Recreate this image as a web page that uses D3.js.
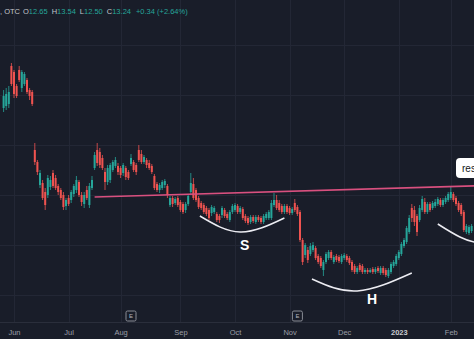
<!DOCTYPE html>
<html>
<head>
<meta charset="utf-8">
<script src="https://cdn.jsdelivr.net/npm/d3@7"></script>
<style>
html, body { margin: 0; padding: 0; background: #fff; }
svg { display: block; font-family: "Liberation Sans", Arial, sans-serif; }
</style>
</head>
<body>
<svg id="chart" width="474" height="355"></svg>
<script>
// one row per trading day, [open, high, low, close], starting late May 2022
const ohlc = [
    [19.35, 20.25, 19.15, 19.95], [19.45, 20.35, 19.25, 20.05], [19.55, 20.45, 19.35, 20.15], [21.45, 21.60, 20.45, 20.55],
    [21.15, 21.25, 19.85, 20.05], [20.45, 20.55, 19.85, 19.95], [21.25, 21.45, 20.65, 20.75], [20.35, 21.25, 20.15, 21.15],
    [20.55, 21.15, 20.45, 21.05], [20.75, 20.85, 20.05, 20.15], [20.25, 20.35, 19.75, 19.95], [20.15, 20.25, 19.45, 19.55],
    [17.25, 17.60, 16.50, 16.65], [16.65, 16.75, 16.00, 16.15], [15.50, 16.25, 15.35, 16.10], [15.60, 15.75, 14.75, 14.85],
    [15.15, 15.35, 14.25, 14.50], [15.00, 16.00, 14.85, 15.85], [15.40, 15.95, 15.25, 15.75], [16.10, 16.25, 15.35, 15.45],
    [15.85, 16.00, 15.25, 15.35], [15.45, 15.55, 15.00, 15.15], [15.25, 15.35, 14.75, 14.85], [15.00, 15.15, 14.25, 14.40],
    [14.45, 14.85, 14.25, 14.75], [14.85, 15.00, 14.45, 14.55], [14.75, 15.25, 14.60, 15.15], [15.05, 15.55, 14.90, 15.45],
    [15.25, 15.95, 15.10, 15.75], [15.65, 15.75, 14.90, 15.00], [15.00, 15.15, 14.45, 14.65], [14.55, 15.15, 14.35, 15.00],
    [15.25, 15.45, 14.75, 14.85], [14.50, 15.60, 14.35, 15.45], [15.35, 15.95, 15.25, 15.75], [16.35, 17.15, 16.25, 17.00],
    [17.25, 17.60, 16.45, 16.60], [17.15, 17.35, 16.35, 16.50], [16.85, 17.00, 16.25, 16.35], [16.15, 16.35, 15.25, 15.65],
    [15.65, 16.50, 15.50, 16.35], [15.75, 16.60, 15.60, 16.50], [16.25, 16.75, 16.15, 16.65], [16.45, 16.90, 16.35, 16.75],
    [16.45, 16.60, 16.00, 16.15], [16.35, 16.45, 15.85, 16.00], [16.10, 16.60, 15.95, 16.50], [16.35, 16.45, 15.75, 15.90],
    [16.15, 16.25, 15.75, 15.85], [16.55, 17.05, 16.45, 16.85], [16.65, 16.75, 16.15, 16.25], [16.50, 16.60, 16.00, 16.15],
    [17.25, 17.50, 16.65, 16.75], [17.05, 17.25, 16.55, 16.65], [16.65, 17.00, 16.55, 16.90], [16.75, 16.85, 16.35, 16.50],
    [16.60, 16.75, 16.25, 16.35], [16.45, 16.55, 16.05, 16.15], [15.95, 16.05, 15.25, 15.35], [15.55, 15.65, 15.15, 15.25],
    [15.25, 15.60, 15.10, 15.50], [15.35, 15.75, 15.25, 15.65], [15.50, 15.80, 15.35, 15.70], [15.45, 15.55, 14.85, 15.00],
    [14.50, 14.95, 14.40, 14.85], [14.85, 14.95, 14.40, 14.55], [14.60, 14.90, 14.50, 14.80], [14.85, 14.95, 14.40, 14.50],
    [14.65, 14.75, 14.15, 14.25], [14.55, 14.65, 14.05, 14.15], [14.25, 14.65, 14.10, 14.55], [14.55, 15.05, 14.45, 14.95],
    [15.15, 16.10, 15.05, 15.60], [15.55, 15.85, 14.75, 14.85], [15.25, 15.35, 14.65, 14.75], [14.85, 14.95, 14.30, 14.40],
    [14.60, 14.70, 14.25, 14.35], [14.50, 14.60, 14.05, 14.15], [14.35, 14.45, 13.95, 14.05], [14.25, 14.35, 13.75, 13.85],
    [14.10, 14.50, 13.95, 14.40], [14.15, 14.45, 14.05, 14.35], [14.05, 14.15, 13.65, 13.75], [13.95, 14.05, 13.60, 13.75],
    [14.00, 14.45, 13.85, 14.35], [14.25, 14.35, 13.85, 13.95], [14.05, 14.15, 13.75, 13.85], [13.75, 14.25, 13.65, 14.15],
    [14.15, 14.55, 14.05, 14.45], [14.25, 14.60, 14.15, 14.50], [14.45, 14.55, 14.05, 14.15], [14.15, 14.45, 14.05, 14.35],
    [14.30, 14.40, 13.75, 13.85], [13.95, 14.05, 13.60, 13.70], [13.85, 13.95, 13.50, 13.60], [13.65, 14.00, 13.55, 13.90],
    [13.90, 14.00, 13.60, 13.70], [13.65, 14.00, 13.55, 13.90], [13.90, 14.00, 13.65, 13.75], [13.85, 13.95, 13.55, 13.65],
    [13.65, 14.05, 13.55, 13.95], [13.85, 14.15, 13.75, 14.05], [13.85, 14.25, 13.75, 14.15], [13.85, 14.75, 13.75, 14.60],
    [14.50, 15.10, 14.40, 14.75], [14.75, 15.00, 14.25, 14.35], [14.60, 14.75, 14.15, 14.25], [14.45, 14.55, 14.05, 14.15],
    [14.15, 14.55, 14.05, 14.45], [14.45, 14.55, 14.05, 14.15], [14.35, 14.45, 14.00, 14.10], [14.10, 14.40, 14.00, 14.30],
    [14.60, 14.80, 14.15, 14.25], [14.40, 14.50, 13.95, 14.05], [14.15, 14.25, 12.65, 12.75], [12.75, 12.85, 11.50, 11.65],
    [12.00, 12.60, 11.85, 12.50], [12.25, 12.40, 11.60, 11.75], [12.05, 12.60, 11.95, 12.45], [12.25, 12.65, 12.15, 12.50],
    [12.35, 12.45, 11.75, 11.85], [11.95, 12.05, 11.55, 11.65], [11.85, 11.95, 11.35, 11.45], [11.25, 11.75, 10.95, 11.65],
    [11.65, 12.15, 11.55, 12.05], [11.85, 12.25, 11.75, 12.15], [12.15, 12.25, 11.75, 11.85], [11.65, 12.00, 11.55, 11.90],
    [11.95, 12.05, 11.65, 11.75], [11.90, 12.00, 11.60, 11.70], [11.65, 12.05, 11.55, 11.95], [11.85, 12.10, 11.75, 12.00],
    [11.95, 12.05, 11.65, 11.75], [11.85, 11.95, 11.50, 11.60], [11.65, 11.75, 11.15, 11.25], [11.45, 11.55, 11.05, 11.15],
    [11.15, 11.45, 11.05, 11.35], [11.50, 11.60, 11.15, 11.25], [11.45, 11.55, 11.05, 11.15], [11.15, 11.35, 11.05, 11.25],
    [11.25, 11.35, 11.05, 11.15], [11.15, 11.35, 11.10, 11.25], [11.30, 11.40, 11.05, 11.15], [11.15, 11.40, 11.05, 11.30],
    [11.35, 11.45, 11.10, 11.20], [11.10, 11.45, 11.00, 11.35], [11.35, 11.45, 11.00, 11.10], [11.25, 11.35, 10.90, 11.00],
    [10.95, 11.35, 10.85, 11.25], [11.15, 11.65, 11.05, 11.55], [11.45, 11.75, 11.35, 11.65], [11.55, 12.05, 11.45, 11.95],
    [11.85, 12.25, 11.75, 12.15], [12.05, 12.65, 11.95, 12.55], [12.45, 12.85, 12.35, 12.75], [12.65, 13.45, 12.55, 13.35],
    [13.15, 14.00, 13.05, 13.85], [14.35, 14.55, 13.65, 13.85], [14.25, 14.45, 13.45, 13.65], [13.95, 14.05, 12.95, 13.15],
    [13.75, 14.50, 13.65, 14.35], [14.25, 14.95, 14.15, 14.80], [14.65, 14.85, 14.05, 14.15], [14.15, 14.65, 14.05, 14.55],
    [14.55, 14.65, 14.15, 14.25], [14.35, 14.70, 14.25, 14.60], [14.45, 14.80, 14.35, 14.65], [14.55, 14.90, 14.45, 14.80],
    [14.75, 14.85, 14.40, 14.50], [14.50, 14.85, 14.40, 14.75], [14.65, 14.95, 14.55, 14.85], [14.75, 15.15, 14.65, 15.05],
    [14.85, 15.40, 14.75, 15.15], [15.05, 15.15, 14.65, 14.75], [14.85, 14.95, 14.45, 14.55], [14.60, 14.70, 14.15, 14.25],
    [14.50, 14.60, 13.95, 14.05], [14.15, 14.25, 13.15, 13.25], [13.15, 13.55, 13.05, 13.45], [13.10, 13.50, 13.00, 13.40],
    [13.20, 13.55, 13.10, 13.45]
];

// month ticks (candle index where each month starts)
const tickIdx = [4, 25, 45, 68, 89, 110, 131, 152, 172];
const tickLabels = ['Jun', 'Jul', 'Aug', 'Sep', 'Oct', 'Nov', 'Dec', '2023', 'Feb'];
const gridPrices = [10, 12.5, 15, 17.5, 20, 22.5];
const earnings = [49, 113];

// drawings: [candle index, price]
const resistance = [[35, 14.90], [185, 15.47]];
const arcS = [[75.5, 13.95], [91, 13.15], [108, 13.85]];
const arcH = [[118.6, 10.8], [136, 10.2], [157, 11.1]];
const arcR = [[167, 13.55], [184, 12.6], [201, 13.5]];
const shapeLabels = [['S', 92.7, 12.52], ['H', 141.7, 9.78]];
const resistLabel = ['resistance', 174, 16.35];

const headKeys = ['O', 'H', 'L', 'C'];
const headVals = ['12.65', '13.54', '12.50', '13.24'];
const headChange = '+0.34 (+2.64%)';

const bg = '#191d29';
const up = '#26a69a';
const down = '#ef5350';

const svg = d3.select('#chart');
const plotBottom = 322;

svg.append('rect')
    .attr('width', 474)
    .attr('height', 339)
    .attr('fill', bg);

const x = d3.scaleLinear().domain([0, 180]).range([3.6, 471.6]);
const y = d3.scaleLinear().domain([8, 24.75]).range([335, 0]);

// grid
svg.append('g').selectAll('line')
    .data(gridPrices)
    .enter()
    .append('line')
    .attr('x1', 0).attr('x2', 474)
    .attr('y1', (d) => Math.round(y(d)) + 0.5)
    .attr('y2', (d) => Math.round(y(d)) + 0.5)
    .attr('stroke', '#232735');

svg.append('g').selectAll('line')
    .data(tickIdx)
    .enter()
    .append('line')
    .attr('y1', 0).attr('y2', plotBottom)
    .attr('x1', (d) => Math.round(x(d)) + 0.5)
    .attr('x2', (d) => Math.round(x(d)) + 0.5)
    .attr('stroke', '#232735');

svg.append('line')
    .attr('x1', 0).attr('x2', 474)
    .attr('y1', plotBottom + 0.5).attr('y2', plotBottom + 0.5)
    .attr('stroke', '#2a2e3b');

// candles
const candle = svg.append('g').selectAll('g')
    .data(ohlc)
    .enter()
    .append('g')
    .attr('fill', (d) => d[3] >= d[0] ? up : down)
    .attr('stroke', (d) => d[3] >= d[0] ? up : down);

candle.append('line')
    .attr('x1', (d, i) => x(i))
    .attr('x2', (d, i) => x(i))
    .attr('y1', (d) => y(d[1]))
    .attr('y2', (d) => y(d[2]))
    .attr('stroke-width', 0.8);

candle.append('rect')
    .attr('stroke', 'none')
    .attr('x', (d, i) => x(i) - 1)
    .attr('width', 2)
    .attr('y', (d) => y(Math.max(d[0], d[3])))
    .attr('height', (d) => Math.max(1, Math.abs(y(d[0]) - y(d[3]))));

// neckline / resistance
const line = d3.line()
    .x((d) => x(d[0]))
    .y((d) => y(d[1]));

svg.append('path')
    .attr('d', line(resistance))
    .attr('fill', 'none')
    .attr('stroke', '#d9507f')
    .attr('stroke-width', 1.6);

const curve = d3.line()
    .curve(d3.curveNatural)
    .x((d) => x(d[0]))
    .y((d) => y(d[1]));

svg.append('g').selectAll('path')
    .data([arcS, arcH, arcR])
    .enter()
    .append('path')
    .attr('d', curve)
    .attr('fill', 'none')
    .attr('stroke', '#ececf2')
    .attr('stroke-width', 1.5);

svg.append('g').selectAll('text')
    .data(shapeLabels)
    .enter()
    .append('text')
    .attr('x', (d) => x(d[1]))
    .attr('y', (d) => y(d[2]))
    .attr('dy', '0.35em')
    .attr('text-anchor', 'middle')
    .attr('fill', '#fff')
    .style('font', 'bold 14px "Liberation Sans", Arial, sans-serif')
    .text((d) => d[0]);

// resistance label box
const rx = x(resistLabel[1]);
const ry = y(resistLabel[2]);
svg.append('rect')
    .attr('x', rx)
    .attr('y', ry - 10)
    .attr('width', 70)
    .attr('height', 20)
    .attr('rx', 4)
    .attr('fill', '#fff');
svg.append('text')
    .attr('x', rx + 6)
    .attr('y', ry)
    .attr('dy', '0.35em')
    .attr('fill', '#131722')
    .style('font', '10px "Liberation Sans", Arial, sans-serif')
    .text(resistLabel[0]);

// earnings markers
const ev = svg.append('g').selectAll('g')
    .data(earnings)
    .enter()
    .append('g')
    .attr('transform', (d) => 'translate(' + x(d) + ',316)');
ev.append('rect')
    .attr('x', -5).attr('y', -5)
    .attr('width', 10).attr('height', 10)
    .attr('rx', 1.5)
    .attr('fill', bg)
    .attr('stroke', '#8a8d96');
ev.append('text')
    .attr('text-anchor', 'middle')
    .attr('dy', '0.35em')
    .attr('fill', '#b2b5be')
    .style('font', '6px "Liberation Sans", Arial, sans-serif')
    .text('E');

// time axis
const axis = svg.append('g')
    .attr('transform', 'translate(0,' + 327 + ')')
    .call(d3.axisBottom(x)
        .tickValues(tickIdx)
        .tickSize(0)
        .tickFormat((d, i) => tickLabels[i]));
axis.select('.domain').remove();
axis.selectAll('text')
    .attr('fill', '#9a9da6')
    .style('font', '7.5px "Liberation Sans", Arial, sans-serif')
    .filter((d, i) => tickLabels[i] === '2023')
    .attr('fill', '#c8cad0')
    .style('font-weight', 'bold');

// header line
const head = svg.append('text')
    .attr('y', 14)
    .style('font', '7.5px "Liberation Sans", Arial, sans-serif');
head.append('tspan')
    .attr('x', 20)
    .attr('text-anchor', 'end')
    .attr('fill', '#c4c6cc')
    .text('Inc · 1D, OTC');

const head2 = svg.append('text')
    .attr('x', 23)
    .attr('y', 14)
    .style('font', '7.5px "Liberation Sans", Arial, sans-serif');
headKeys.forEach((k, i) => {
    head2.append('tspan')
        .attr('dx', i === 0 ? 0 : 4)
        .attr('fill', '#c4c6cc')
        .text(k);
    head2.append('tspan')
        .attr('fill', up)
        .text(headVals[i]);
});
head2.append('tspan')
    .attr('dx', 5)
    .attr('fill', up)
    .text(headChange);
</script>
</body>
</html>
